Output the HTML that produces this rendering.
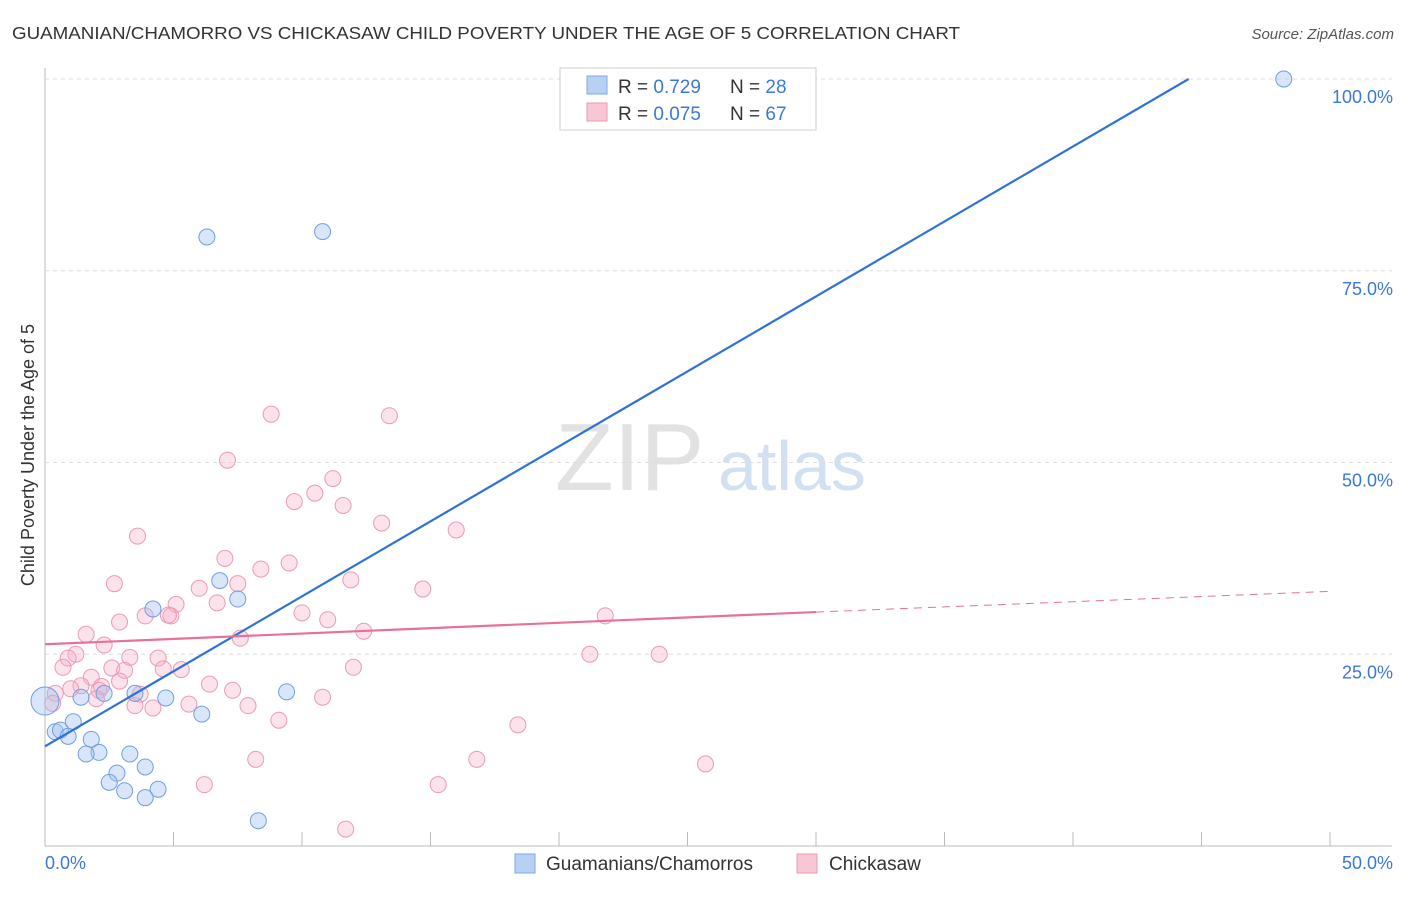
<!DOCTYPE html>
<html><head><meta charset="utf-8"><style>
body{margin:0;background:#fff;font-family:"Liberation Sans",sans-serif;}
svg text{font-family:"Liberation Sans",sans-serif;}
</style></head><body>
<svg id="c" width="1406" height="892">
<text x="12" y="39" font-size="17.5" fill="#333" textLength="948" lengthAdjust="spacingAndGlyphs">GUAMANIAN/CHAMORRO VS CHICKASAW CHILD POVERTY UNDER THE AGE OF 5 CORRELATION CHART</text>
<text x="1394" y="39" font-size="15" fill="#555" font-style="italic" text-anchor="end">Source: ZipAtlas.com</text>
<text x="34" y="455" font-size="18" fill="#333" text-anchor="middle" transform="rotate(-90 34 455)">Child Poverty Under the Age of 5</text>
<text x="555" y="490" font-size="96" fill="#e2e2e2" font-family="Liberation Serif">ZIP</text>
<text x="718" y="490" font-size="70" fill="#d2e0f4">atlas</text>
<g id="grid"></g><g id="pts"></g><g id="lines"></g>
<g>
<rect x="560" y="68" width="256" height="62" fill="#fff" stroke="#ccc"/>
<rect x="587" y="76" width="20" height="18" fill="#b8d0f4" stroke="#7fa8e0"/>
<text x="618" y="93" font-size="19" fill="#333">R = <tspan fill="#3b78d8">0.729</tspan></text>
<text x="730" y="93" font-size="19" fill="#333">N = <tspan fill="#3b78d8">28</tspan></text>
<rect x="587" y="103" width="20" height="18" fill="#f9c6d6" stroke="#eb9ab4"/>
<text x="618" y="120" font-size="19" fill="#333">R = <tspan fill="#3b78d8">0.075</tspan></text>
<text x="730" y="120" font-size="19" fill="#333">N = <tspan fill="#3b78d8">67</tspan></text>
</g>
<g>
<rect x="515" y="854" width="20" height="19" fill="#b8d0f4" stroke="#7fa8e0"/>
<text x="546" y="870" font-size="19" fill="#333">Guamanians/Chamorros</text>
<rect x="797" y="854" width="20" height="19" fill="#f9c6d6" stroke="#eb9ab4"/>
<text x="829" y="870" font-size="19" fill="#333">Chickasaw</text>
</g>
</svg>
<script>
const yTicks=[25,50,75,100];
const yTickLabels=["25.0%","50.0%","75.0%","100.0%"];
const blueX=[48.2,6.3,10.8,6.8,7.5,4.2,9.4,6.1,4.7,3.5,2.3,1.4,0.0,0.4,0.6,1.1,0.9,1.8,2.1,1.6,3.3,2.8,3.9,2.5,3.1,4.4,3.9,8.3];
const blueY=[100,79.4,80.1,34.6,32.2,30.9,20.1,17.2,19.3,19.9,19.9,19.4,18.9,14.9,15.1,16.2,14.3,13.9,12.2,12.0,12.0,9.5,10.3,8.3,7.2,7.4,6.3,3.3];
const pinkX=[8.8,13.4,7.1,11.2,10.5,9.7,11.6,13.1,16.0,3.6,7.0,9.5,8.4,2.7,6.0,7.5,11.9,14.7,5.1,6.7,3.9,4.9,4.8,10.0,11.0,2.9,21.8,12.4,1.6,7.6,2.3,1.2,0.9,3.3,4.4,21.2,23.9,0.7,2.6,3.1,4.6,5.3,12.0,1.8,2.9,1.4,6.4,7.3,0.4,2.1,1.0,2.2,10.8,2.0,3.7,5.6,3.5,4.2,7.9,0.3,9.1,18.4,16.8,8.2,25.7,6.2,15.3,11.7];
const pinkY=[56.3,56.1,50.3,47.9,46.0,44.9,44.4,42.1,41.2,40.4,37.5,36.9,36.1,34.2,33.6,34.2,34.7,33.5,31.5,31.7,30.0,30.0,30.1,30.4,29.5,29.2,30.0,28.0,27.6,27.1,26.2,25.0,24.5,24.6,24.5,25.0,25.0,23.3,23.2,22.9,23.1,23.0,23.3,22.0,21.5,20.9,21.1,20.3,19.9,20.3,20.5,20.8,19.4,19.2,19.8,18.5,18.3,18.0,18.3,18.6,16.4,15.8,11.3,11.3,10.7,8.0,8.0,2.2];
const blueLine=[[0,13],[44.5,100]];
const pinkLine=[[0,26.3],[30,30.5],[50,33.2]];
const X=v=>45+v/50*1285, Y=v=>846-v/100*767;
const NS="http://www.w3.org/2000/svg";
function mk(t,a,p){const e=document.createElementNS(NS,t);for(const k in a)e.setAttribute(k,a[k]);p.appendChild(e);return e;}
const g=document.getElementById('grid');
mk('line',{x1:45,y1:68,x2:45,y2:846,stroke:'#bbb'},g);
mk('line',{x1:45,y1:846,x2:1392,y2:846,stroke:'#bbb'},g);
for(let i=0;i<=10;i++){const l=mk('line',{x1:45+i*128.5,y1:832,x2:45+i*128.5,y2:846,stroke:'#bbb'},g);}
yTicks.forEach((t,i)=>{
const l=mk('line',{x1:45,y1:Y(t),x2:1392,y2:Y(t),stroke:'#ddd','stroke-dasharray':'4,4'},g);

const tx=mk('text',{x:1393,y:Y(t)+24,'font-size':18,fill:'#3b78d8','text-anchor':'end'},g);
tx.textContent=yTickLabels[i];

});
let t0=mk('text',{x:45,y:869,'font-size':18,fill:'#3b78d8'},g);t0.textContent='0.0%';

let t1=mk('text',{x:1393,y:869,'font-size':18,fill:'#3b78d8','text-anchor':'end'},g);t1.textContent='50.0%';

const p=document.getElementById('pts');
pinkX.forEach((x,i)=>{const c=mk('circle',{cx:X(x),cy:Y(pinkY[i]),r:8,fill:'rgba(246,176,198,0.35)',stroke:'#eb9ab4','stroke-width':1},p);
});
blueX.forEach((x,i)=>{const c=mk('circle',{cx:X(x),cy:Y(blueY[i]),r:i==12?14:8,fill:'rgba(160,192,240,0.4)',stroke:'#6f9fe0','stroke-width':1},p);
});
const L=document.getElementById('lines');
let bl=mk('line',{x1:X(blueLine[0][0]),y1:Y(blueLine[0][1]),x2:X(blueLine[1][0]),y2:Y(blueLine[1][1]),stroke:'#2f72d6','stroke-width':2.2},L);

let pl=mk('line',{x1:X(pinkLine[0][0]),y1:Y(pinkLine[0][1]),x2:X(pinkLine[1][0]),y2:Y(pinkLine[1][1]),stroke:'#e8709a','stroke-width':2.2},L);

let pd=mk('line',{x1:X(pinkLine[1][0]),y1:Y(pinkLine[1][1]),x2:X(pinkLine[2][0]),y2:Y(pinkLine[2][1]),stroke:'#e8709a','stroke-width':1,'stroke-dasharray':'8,6'},L);

</script>
</body></html>
